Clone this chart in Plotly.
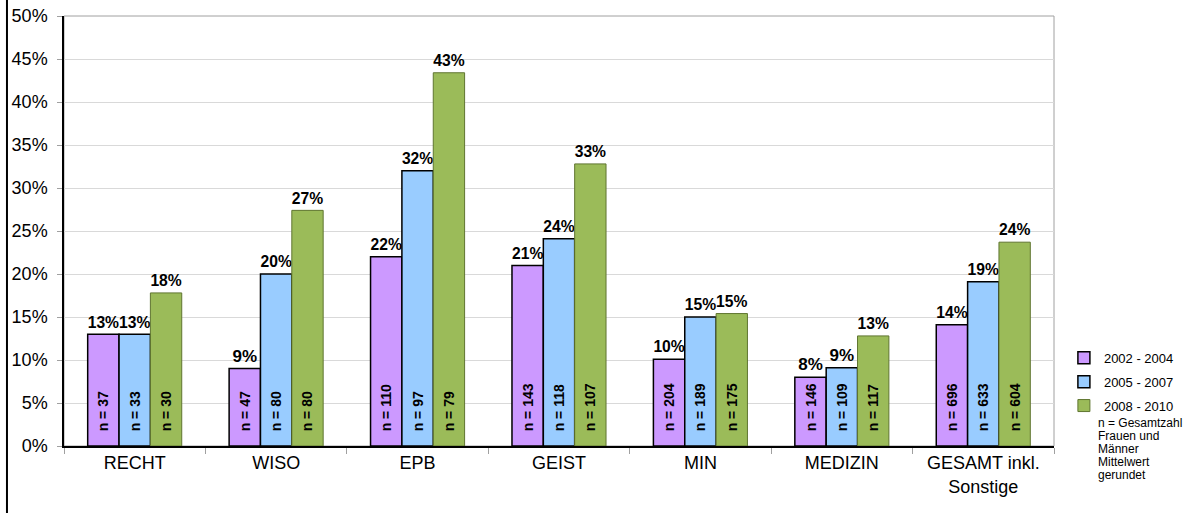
import plotly.graph_objects as go

categories = ["RECHT", "WISO", "EPB", "GEIST", "MIN", "MEDIZIN", "GESAMT inkl.<br>Sonstige"]
series_names = ["2002 - 2004", "2005 - 2007", "2008 - 2010"]

share_2002 = [13.0, 9.0, 22.0, 21.0, 10.1, 8.0, 14.1]
share_2005 = [13.0, 20.0, 32.0, 24.1, 15.0, 9.1, 19.1]
share_2008 = [17.8, 27.4, 43.4, 32.8, 15.4, 12.8, 23.7]

n_2002 = [37, 47, 110, 143, 204, 146, 696]
n_2005 = [33, 80, 97, 118, 189, 109, 633]
n_2008 = [30, 80, 79, 107, 175, 117, 604]

y_ticks = [0, 5, 10, 15, 20, 25, 30, 35, 40, 45, 50]
y_tick_labels = ["%d%%" % v for v in y_ticks]

note_lines = ["n = Gesamtzahl", "Frauen und", "Männer", "Mittelwert", "gerundet"]

fill_colors = ["#CC99FF", "#99CCFF", "#9BBB59"]
line_colors = ["#000000", "#000000", "#5F7530"]
line_widths = [1.5, 1.5, 1]

FONT = "Liberation Sans, Arial, sans-serif"
NBSP = "\u00a0"

fig = go.Figure()

shares = [share_2002, share_2005, share_2008]
counts = [n_2002, n_2005, n_2008]

for i, name in enumerate(series_names):
    fig.add_trace(go.Bar(
        x=categories, y=shares[i], name=name,
        offsetgroup=str(i), legendgroup=str(i),
        marker=dict(color=fill_colors[i], line=dict(color=line_colors[i], width=line_widths[i])),
        texttemplate="<b>%{y:.0f}%</b>", textposition="outside", textangle=0,
        outsidetextfont=dict(family=FONT, size=17, color="black"),
        cliponaxis=False,
    ))

# n labels, drawn on transparent bars in the same slot
for i, name in enumerate(series_names):
    fig.add_trace(go.Bar(
        x=categories, y=shares[i], name=name,
        offsetgroup=str(i), showlegend=False, hoverinfo="skip",
        marker=dict(color="rgba(0,0,0,0)", line=dict(width=0)),
        text=[NBSP * 3 + "<b>n = %d</b>" % n for n in counts[i]],
        texttemplate="%{text}",
        textposition="inside", insidetextanchor="start", textangle=-90,
        insidetextfont=dict(family=FONT, size=14, color="black"),
    ))

# footnote under the legend, one line each for tight spacing
for k, line in enumerate(note_lines):
    fig.add_annotation(
        x=1.0434, y=0.053 - k * 0.0302, xref="paper", yref="paper",
        xanchor="left", yanchor="middle", borderpad=0,
        text=line, showarrow=False, align="left",
        font=dict(family=FONT, size=12, color="black"),
    )

# plot area frame and outer chart edge
fig.add_shape(type="rect", xref="paper", yref="paper", x0=0, x1=1, y0=0, y1=1,
              line=dict(color="#A0A0A0", width=1), layer="below")
fig.add_shape(type="line", xref="paper", yref="paper", x0=-0.0576, x1=-0.0576, y0=-0.16, y1=1.04,
              line=dict(color="black", width=2))

fig.update_layout(
    width=1191, height=513,
    margin=dict(l=64, r=137, t=16, b=67, autoexpand=False),
    barmode="group", bargap=0.335, bargroupgap=0,
    plot_bgcolor="white", paper_bgcolor="white",
    font=dict(family=FONT, color="black"),
    legend=dict(
        x=1.01, y=0.24, xanchor="left", yanchor="top",
        font=dict(family=FONT, size=13, color="black"),
        itemwidth=30, tracegroupgap=4, bgcolor="rgba(0,0,0,0)",
    ),
    xaxis=dict(
        tickfont=dict(family=FONT, size=18, color="black"),
        showline=True, linecolor="black", linewidth=1.5,
        ticks="outside", tickson="boundaries", ticklen=6, tickcolor="#A0A0A0",
        showgrid=False, automargin=False,
    ),
    yaxis=dict(
        range=[0, 50], tickvals=y_ticks, ticktext=y_tick_labels,
        tickfont=dict(family=FONT, size=18, color="black"),
        showline=True, linecolor="black", linewidth=1.5,
        ticks="outside", ticklen=5, tickcolor="#A0A0A0", ticklabelstandoff=6,
        ticklabeloverflow="allow",
        showgrid=True, gridcolor="#D9D9D9", gridwidth=1,
        zeroline=False, automargin=False,
    ),
)

# drop the default body margin so the figure sits at the page corner
fig.write_html("out.html", config={"displayModeBar": False},
               post_script="document.body.style.margin='0px';")
